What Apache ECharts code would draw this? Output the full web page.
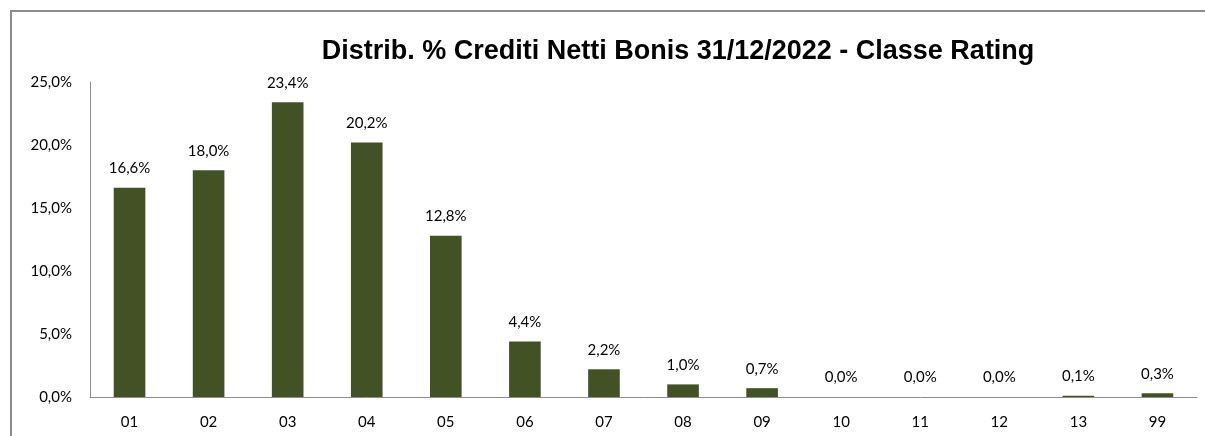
<!DOCTYPE html>
<html><head><meta charset="utf-8">
<script src="https://cdn.jsdelivr.net/npm/echarts@6/dist/echarts.min.js"></script>
<style>html,body{margin:0;padding:0;background:#fff}#c{width:1205px;height:436px}</style>
</head><body><div id="c"></div>
<script>
const title = 'Distrib. % Crediti Netti Bonis 31/12/2022 - Classe Rating';
const categories = ['01','02','03','04','05','06','07','08','09','10','11','12','13','99'];
const values = [16.6, 18.0, 23.4, 20.2, 12.8, 4.4, 2.2, 1.0, 0.7, 0.0, 0.0, 0.0, 0.1, 0.3];
const yTicks = [0, 5, 10, 15, 20, 25];
const fmt = v => v.toFixed(1).replace('.', ',') + '%';
const chart = echarts.init(document.getElementById('c'), null, {renderer: 'canvas'});
chart.setOption({
  animation: false,
  backgroundColor: '#fff',
  graphic: [{type: 'polyline', shape: {points: [[11, 600], [11, 11], [1400, 11]]},
    style: {fill: 'none', stroke: '#8c8c8c', lineWidth: 2}, silent: true}],
  title: {text: title, left: 673, top: 33, textAlign: 'center',
    textStyle: {fontFamily: 'Liberation Sans', fontWeight: 'bold', fontSize: 27, color: '#000'}},
  grid: {left: 90, right: 8, top: 82, bottom: 39, containLabel: false},
  xAxis: {type: 'category', data: categories,
    axisLine: {lineStyle: {color: '#8c8c8c', width: 1}}, axisTick: {show: false},
    axisLabel: {color: '#000', fontFamily: 'Lato', fontSize: 15, margin: 18}},
  yAxis: {type: 'value', min: yTicks[0], max: yTicks[yTicks.length-1], interval: 5,
    axisLine: {show: true, lineStyle: {color: '#8c8c8c', width: 1}}, axisTick: {show: false},
    splitLine: {show: false},
    axisLabel: {color: '#000', fontFamily: 'Lato', fontSize: 15, margin: 18, formatter: v => fmt(v)}},
  series: [{type: 'bar', data: values, barWidth: '40%',
    itemStyle: {color: '#435224'},
    label: {show: true, position: 'top', distance: 12, color: '#000', fontFamily: 'Lato', fontSize: 15,
      formatter: p => fmt(p.value)}}]
});
</script></body></html>
